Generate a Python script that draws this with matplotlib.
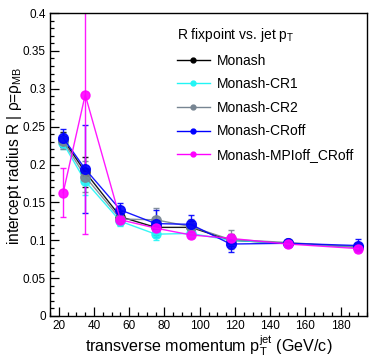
import matplotlib
matplotlib.use("Agg")
import matplotlib.pyplot as plt
from matplotlib.lines import Line2D
from matplotlib.ticker import MultipleLocator, FuncFormatter

plt.rcParams['font.family'] = ['Liberation Sans', 'DejaVu Sans']
plt.rcParams['mathtext.fontset'] = 'custom'
plt.rcParams['mathtext.rm'] = 'Liberation Sans'
plt.rcParams['mathtext.it'] = 'Liberation Sans:italic'

# jet pT bin centres (GeV/c)
pt = [22.5, 35, 55, 75, 95, 117.5, 150, 190]

labels = ["Monash", "Monash-CR1", "Monash-CR2", "Monash-CRoff", "Monash-MPIoff_CRoff"]
colors = ["#000000", "#22f5f5", "#778592", "#0000ff", "#ff00ff"]

# fixpoint radius R per tune
r_monash = [0.233, 0.190, 0.131, 0.117, 0.117, 0.100, 0.096, 0.091]
r_cr1 = [0.228, 0.178, 0.125, 0.108, 0.109, 0.100, 0.096, 0.091]
r_cr2 = [0.231, 0.184, 0.128, 0.127, 0.118, 0.101, 0.097, 0.091]
r_croff = [0.235, 0.194, 0.140, 0.122, 0.121, 0.095, 0.096, 0.093]
r_mpioff = [0.163, 0.292, 0.127, 0.116, 0.107, 0.1025, 0.095, 0.089]

# uncertainties
e_monash = [0.010, 0.020, 0.008, 0.010, 0.008, 0.008, 0.003, 0.004]
e_cr1 = [0.008, 0.018, 0.006, 0.008, 0.006, 0.006, 0.003, 0.004]
e_cr2 = [0.010, 0.020, 0.008, 0.015, 0.010, 0.012, 0.003, 0.004]
e_croff = [0.012, 0.058, 0.009, 0.018, 0.012, 0.010, 0.003, 0.008]
e_mpioff = [0.032, 0.184, 0.005, 0.006, 0.004, 0.004, 0.003, 0.003]

series = [r_monash, r_cr1, r_cr2, r_croff, r_mpioff]
errors = [e_monash, e_cr1, e_cr2, e_croff, e_mpioff]
msizes = [6.5, 6.5, 6.8, 7.0, 6.5]

fig = plt.figure(figsize=(3.70, 3.57), dpi=100)
ax = fig.add_axes([50 / 370, 1 - 316 / 357, 317 / 370, 303 / 357])

for y, e, c, ms in zip(series, errors, colors, msizes):
    ax.errorbar(pt, y, yerr=e, color=c, marker='o', ms=ms, lw=1.0,
                elinewidth=1.0, capsize=2.0, capthick=1.0, alpha=0.9,
                clip_on=True)

ax.set_xlim(15, 195)
ax.set_ylim(0, 0.4)
ax.xaxis.set_major_locator(MultipleLocator(20))
ax.xaxis.set_minor_locator(MultipleLocator(5))
ax.yaxis.set_major_locator(MultipleLocator(0.05))
ax.yaxis.set_minor_locator(MultipleLocator(0.01))
ax.yaxis.set_major_formatter(FuncFormatter(lambda v, p: "%g" % round(v, 3)))
ax.tick_params(which='both', direction='in', top=False, right=False,
               labelsize=8.5, pad=3, width=0.9)
ax.tick_params(which='major', length=6.5)
ax.tick_params(which='minor', length=3.2)
for s in ax.spines.values():
    s.set_linewidth(1.0)

ax.set_xlabel(r'transverse momentum $\mathregular{p_{T}^{jet}}$ (GeV/c)', fontsize=11.6)
ax.set_ylabel(r'intercept radius R | ρ=$\mathregular{ρ_{MB}}$', fontsize=11.2)
ax.xaxis.set_label_coords(0.5, -0.056)
ax.yaxis.set_label_coords(-0.082, 0.53)

handles = [Line2D([0], [0], color=c, lw=1.0, marker='o', ms=3.5) for c in colors]
leg = ax.legend(handles, labels, title=r'R fixpoint vs. jet $\mathregular{p_{T}}$',
                loc='upper left', bbox_to_anchor=(0.40, 0.957), frameon=False,
                fontsize=10, title_fontsize=10, handlelength=2.4,
                handletextpad=0.45, labelspacing=0.69, alignment='left',
                borderaxespad=0, borderpad=0)

fig.savefig("out.png", dpi=100)
